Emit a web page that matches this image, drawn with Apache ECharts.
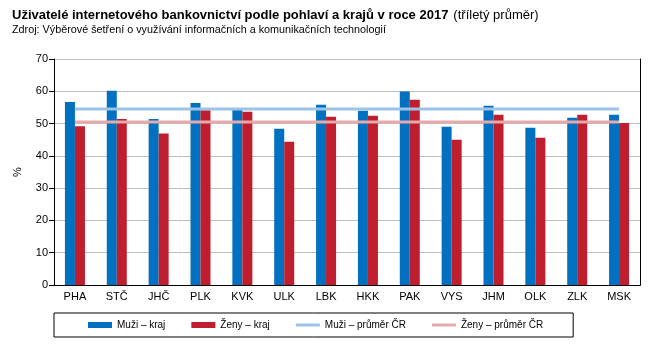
<!DOCTYPE html>
<html lang="cs">

<head>
    <meta charset="UTF-8">
    <title>Uživatelé internetového bankovnictví</title>
    <style>
        * {
            margin: 0;
            padding: 0;
        }

        #main {
            width: 652px;
            height: 351px;
            background: #fff;
        }
    </style>
</head>

<body>
    <div id="main"></div>
</body>
<script src="https://cdn.jsdelivr.net/npm/echarts@6/dist/echarts.min.js"></script>
<script>
    let kraje = ['PHA', 'STČ', 'JHČ', 'PLK', 'KVK', 'ULK', 'LBK', 'HKK', 'PAK', 'VYS', 'JHM', 'OLK', 'ZLK', 'MSK'];
    let muziKraj = [56.7, 60.2, 51.4, 56.4, 54.2, 48.4, 55.8, 54.0, 59.9, 49.0, 55.5, 48.7, 51.8, 52.7];
    let zenyKraj = [49.2, 51.4, 46.9, 54.1, 53.7, 44.4, 52.1, 52.4, 57.4, 45.0, 52.7, 45.6, 52.7, 50.2];
    let muziPrumer = [54.5, 54.5, 54.5, 54.5, 54.5, 54.5, 54.5, 54.5, 54.5, 54.5, 54.5, 54.5, 54.5, 54.5];
    let zenyPrumer = [50.5, 50.5, 50.5, 50.5, 50.5, 50.5, 50.5, 50.5, 50.5, 50.5, 50.5, 50.5, 50.5, 50.5];

    const font = "'Liberation Sans', Arial, sans-serif";
    // tenka cara do legendy pro prumery
    const lineIcon = 'path://M0,0 L24,0 L24,3 L0,3 Z';

    let option = {
        animation: false,
        textStyle: { fontFamily: font },
        title: [{
            left: 7,
            top: 1,
            text: '{b|Uživatelé internetového bankovnictví podle pohlaví a krajů v roce 2017} {n|(tříletý průměr)}',
            textStyle: {
                rich: {
                    b: { fontFamily: font, fontSize: 13, fontWeight: 'bold', color: '#000' },
                    n: { fontFamily: font, fontSize: 13, fontWeight: 'normal', color: '#000' }
                }
            }
        }, {
            left: 7,
            top: 20,
            text: 'Zdroj: Výběrové šetření o využívání informačních a komunikačních technologií',
            textStyle: { fontFamily: font, fontSize: 10.8, fontWeight: 'normal', color: '#000' }
        }],
        legend: {
            left: 54,
            top: 313,
            padding: [7, 30, 7, 34],
            itemGap: 26,
            itemWidth: 24,
            itemHeight: 6,
            borderColor: '#000',
            borderWidth: 1,
            borderRadius: 0,
            textStyle: { fontFamily: font, fontSize: 10, color: '#000' },
            data: [
                { name: 'Muži – kraj', icon: 'rect' },
                { name: 'Ženy – kraj', icon: 'rect' },
                { name: 'Muži – průměr ČR', icon: lineIcon },
                { name: 'Ženy – průměr ČR', icon: lineIcon }
            ]
        },
        grid: {
            left: 54,
            right: 12,
            top: 59,
            bottom: 66
        },
        xAxis: [{
            type: 'category',
            data: kraje,
            axisLine: { lineStyle: { color: '#000', width: 1 } },
            axisTick: { length: 5, lineStyle: { color: '#000' } },
            axisLabel: { color: '#000', fontSize: 11, margin: 6 }
        }, {
            type: 'category',
            data: kraje,
            position: 'top',
            axisLine: { lineStyle: { color: '#000', width: 1 } },
            axisTick: { show: false },
            axisLabel: { show: false }
        }],
        yAxis: [{
            type: 'value',
            min: 0,
            max: 70,
            interval: 10,
            name: '%',
            nameLocation: 'middle',
            nameRotate: 90,
            nameGap: 31,
            nameTextStyle: { color: '#000', fontSize: 11 },
            axisLine: { show: true, lineStyle: { color: '#000' } },
            axisTick: { show: true, length: 5, lineStyle: { color: '#000' } },
            axisLabel: { color: '#000', fontSize: 11, margin: 6 },
            splitLine: { lineStyle: { color: '#BFBFBF', width: 1 } }
        }, {
            type: 'value',
            min: 0,
            max: 70,
            interval: 10,
            position: 'right',
            axisLine: { show: true, lineStyle: { color: '#000' } },
            axisTick: { show: false },
            axisLabel: { show: false },
            splitLine: { show: false }
        }],
        series: [{
            name: 'Muži – kraj',
            type: 'bar',
            data: muziKraj,
            barWidth: 10,
            barGap: '0%',
            itemStyle: { color: '#0070C0' }
        }, {
            name: 'Ženy – kraj',
            type: 'bar',
            data: zenyKraj,
            barWidth: 10,
            itemStyle: { color: '#BE1E2D' }
        }, {
            name: 'Muži – průměr ČR',
            type: 'line',
            data: muziPrumer,
            symbol: 'none',
            lineStyle: { color: '#9DC3E6', width: 3 },
            itemStyle: { color: '#9DC3E6' }
        }, {
            name: 'Ženy – průměr ČR',
            type: 'line',
            data: zenyPrumer,
            symbol: 'none',
            lineStyle: { color: '#E6A9AC', width: 3 },
            itemStyle: { color: '#E6A9AC' }
        }]
    };

    initChart(option);

    function initChart(option) {
        let myCharts = echarts.init(document.getElementById('main'));
        myCharts.clear();
        myCharts.setOption(option);
        window.addEventListener('resize', () => {
            myCharts.resize();
        });
    }
</script>

</html>
